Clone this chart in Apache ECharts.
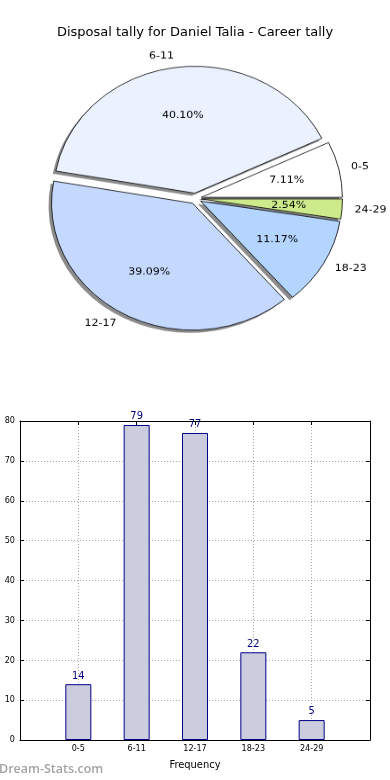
<!DOCTYPE html>
<html><head><meta charset="utf-8">
<script src="https://cdn.jsdelivr.net/npm/echarts@6/dist/echarts.min.js"></script>
<style>
html,body{margin:0;padding:0;background:#fff;}
#main{position:absolute;left:0;top:0;width:390px;height:780px;}
#pie{position:absolute;left:0;top:0;width:390px;height:400px;transform:scaleY(0.9);transform-origin:195.5px 198.5px;}
</style></head>
<body>
<div id="main"></div>
<div id="pie"></div>
<script>
const titleText = 'Disposal tally for Daniel Talia - Career tally';
const categories = ['0-5', '6-11', '12-17', '18-23', '24-29'];
const values = [14, 79, 77, 22, 5];
const pieColors = ['#ffffff', '#eaf1ff', '#c5d9ff', '#b3d5ff', '#cdeb8a'];
const yTicks = [0, 10, 20, 30, 40, 50, 60, 70, 80];
const xAxisName = 'Frequency';
const watermark = 'Dream-Stats.com';

const total = values.reduce((a, b) => a + b, 0);
const condensed = '"DejaVu Sans Condensed", "DejaVu Sans", sans-serif';
const gridLine = {show: true, lineStyle: {color: '#aaaaaa', type: [1, 2], width: 1}};

const main = echarts.init(document.getElementById('main'), null, {renderer: 'canvas'});
main.setOption({
  animation: false,
  backgroundColor: '#ffffff',
  title: {
    text: titleText, left: 'center', top: 21,
    textStyle: {fontFamily: '"DejaVu Sans", sans-serif', fontSize: 13, fontWeight: 'normal', color: '#000'}
  },
  graphic: [{
    type: 'text', left: -1, top: 763,
    style: {text: watermark, fill: '#a3a3a3', font: '600 12.5px "Open Sans", sans-serif'}
  }],
  grid: {left: 20, right: 20, top: 421, bottom: 40, containLabel: false},
  xAxis: [{
    type: 'value', min: -1, max: 5, interval: 1, position: 'bottom',
    name: xAxisName, nameLocation: 'middle', nameGap: 20,
    nameTextStyle: {fontFamily: condensed, fontSize: 11, color: '#000'},
    axisLine: {show: true, onZero: false, lineStyle: {color: '#000', width: 1}},
    axisTick: {show: true, inside: true, length: 4, lineStyle: {color: '#000'}},
    axisLabel: {fontFamily: condensed, fontSize: 9, color: '#000', margin: 4,
      formatter: v => (categories[v] !== undefined ? categories[v] : '')},
    splitLine: gridLine
  }, {
    type: 'value', min: -1, max: 5, interval: 1, position: 'top',
    axisLine: {show: true, onZero: false, lineStyle: {color: '#000', width: 1}},
    axisTick: {show: true, inside: true, length: 4, lineStyle: {color: '#000'}},
    axisLabel: {show: false}, splitLine: {show: false}
  }],
  yAxis: [{
    type: 'value', min: yTicks[0], max: yTicks[yTicks.length - 1], interval: yTicks[1] - yTicks[0], position: 'left',
    axisLine: {show: true, onZero: false, lineStyle: {color: '#000', width: 1}},
    axisTick: {show: true, inside: true, length: 4, lineStyle: {color: '#000'}},
    axisLabel: {fontFamily: condensed, fontSize: 9, color: '#000', margin: 5},
    splitLine: gridLine
  }, {
    type: 'value', min: yTicks[0], max: yTicks[yTicks.length - 1], interval: yTicks[1] - yTicks[0], position: 'right',
    axisLine: {show: true, onZero: false, lineStyle: {color: '#000', width: 1}},
    axisTick: {show: true, inside: true, length: 4, lineStyle: {color: '#000'}},
    axisLabel: {show: false}, splitLine: {show: false}
  }],
  series: [{
    type: 'bar', xAxisIndex: 0, yAxisIndex: 0,
    data: values.map((v, i) => [i, v]),
    barWidth: 26,
    itemStyle: {color: '#ccccdf', borderColor: '#000088', borderWidth: 1},
    label: {show: true, position: 'top', distance: 3, color: '#000088', fontFamily: condensed, fontSize: 11,
      formatter: p => String(p.value[1])},
    emphasis: {disabled: true}
  }]
});

const pie = echarts.init(document.getElementById('pie'), null, {renderer: 'canvas'});
const common = {
  type: 'pie', radius: 141, startAngle: 0, clockwise: false,
  selectedMode: 'multiple', selectedOffset: 6, avoidLabelOverlap: false,
  emphasis: {disabled: true}, silent: true
};
pie.setOption({
  animation: false,
  series: [Object.assign({}, common, {
    center: [192.5, 201.5],
    data: categories.map((c, i) => ({name: c, value: values[i], selected: true})),
    itemStyle: {color: 'rgba(0,0,0,0.45)', borderWidth: 0},
    label: {show: false}, labelLine: {show: false}
  }), Object.assign({}, common, {
    center: [195.5, 198.5],
    data: categories.map((c, i) => ({name: c, value: values[i], selected: true, itemStyle: {color: pieColors[i]}})),
    itemStyle: {borderColor: '#000', borderWidth: 0.8},
    label: {show: true, position: 'outside', formatter: '{b}', fontFamily: '"DejaVu Sans", sans-serif', fontSize: 11, color: '#000', distanceToLabelLine: 0},
    labelLine: {show: false, length: 12.5, length2: 0}
  }), Object.assign({}, common, {
    center: [195.5, 198.5], radius: 141 * 1.2,
    data: categories.map((c, i) => ({name: c, value: values[i], selected: true})),
    itemStyle: {color: 'rgba(0,0,0,0)', borderWidth: 0},
    label: {show: true, position: 'inside', fontFamily: '"DejaVu Sans", sans-serif', fontSize: 11, color: '#000',
      formatter: p => (p.value / total * 100).toFixed(2) + '%'},
    labelLine: {show: false}
  })]
});
</script>
</body></html>
